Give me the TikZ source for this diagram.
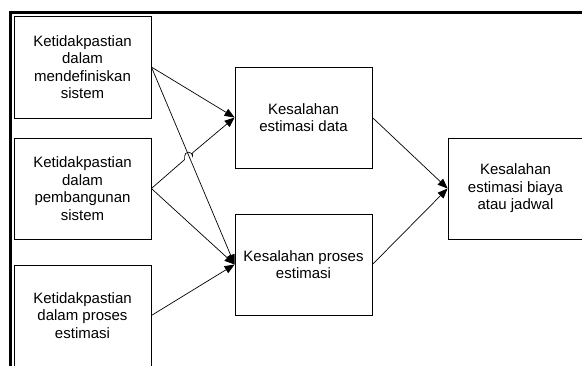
\documentclass[tikz,border=0pt]{standalone}
\usepackage{fontspec}
\setmainfont{Liberation Sans}
\usetikzlibrary{arrows.meta}
\begin{document}
\begin{tikzpicture}[x=1pt,y=-1pt,
  box/.style={draw=black,line width=0.8pt,rectangle,minimum width=137pt,minimum height=101pt,
    align=center,inner sep=2pt,font=\fontsize{15pt}{17.5pt}\selectfont},
  conn/.style={draw=black,line width=0.7pt,-{Triangle[length=10pt,width=8pt]}}]
\useasboundingbox (0,0) rectangle (582,365);
\fill[white] (0,0) rectangle (582,365);
% frame
\draw[line width=3pt] (10.5,366) -- (10.5,12.5) -- (582,12.5);
% boxes
\node[box,minimum height=102pt] (b1) at (82.5,67) {Ketidakpastian\\dalam\\mendefiniskan\\sistem};
\node[box] (b2) at (82.5,188.5) {Ketidakpastian\\dalam\\pembangunan\\sistem};
\node[box] (b3) at (82.5,315.5) {Ketidakpastian\\dalam proses\\estimasi};
\node[box] (ea) at (303.5,117.5) {Kesalahan\\estimasi data};
\node[box] (eb) at (303.5,264.5) {Kesalahan proses\\estimasi};
\node[box,minimum width=135pt] (ec) at (515.5,188.5) {Kesalahan\\estimasi biaya\\atau jadwal};
% connectors
\draw[conn] (b1.east) -- (ea.west);
\draw[conn] (b1.east) -- (eb.west);
\coordinate (h1) at (184.6,159.6);
\coordinate (h2) at (184.6,156.2);
\coordinate (h3) at (192.6,152.8);
\draw[conn] (b2.east) -- (h1) -- (h2) arc[start angle=180,end angle=0,radius=4pt] -- (h3) -- (ea.west);
\draw[conn] (b2.east) -- (eb.west);
\draw[conn] (b3.east) -- (eb.west);
\draw[conn] (ea.east) -- (ec.west);
\draw[conn] (eb.east) -- (ec.west);
\end{tikzpicture}
\end{document}
